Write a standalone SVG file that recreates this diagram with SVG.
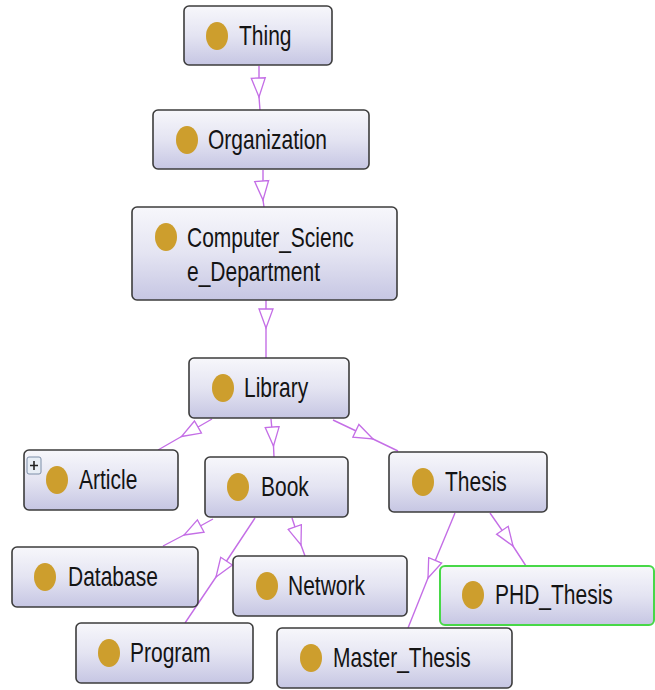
<svg xmlns="http://www.w3.org/2000/svg" width="655" height="690" viewBox="0 0 655 690">
  <defs>
    <linearGradient id="nodeFill" x1="0" y1="0" x2="0" y2="1">
      <stop offset="0" stop-color="#f7f7fb"/>
      <stop offset="0.5" stop-color="#e4e4f2"/>
      <stop offset="1" stop-color="#c6c6e3"/>
    </linearGradient>
    <marker id="isA" markerUnits="userSpaceOnUse" markerWidth="22" markerHeight="18" viewBox="-20 -9 22 18" refX="0" refY="0" orient="auto">
      <path d="M0,0 L-19,-7 L-19,7 Z" fill="#ffffff" stroke="#c46ee6" stroke-width="1.3"/>
    </marker>
  </defs>
  <style>
    .box { fill: url(#nodeFill); stroke: #3c3c3c; stroke-width: 1.6; }
    .box.sel { stroke: #48d848; stroke-width: 2; }
    .dot { fill: #cd9e2d; }
    .lbl { font-family: "Liberation Sans", Arial, sans-serif; font-size: 21px; fill: #141414; }
    .edge { fill: none; stroke: #c46ee6; stroke-width: 1.4; marker-mid: url(#isA); }
  </style>
  <rect width="655" height="690" fill="#ffffff"/>

  <!-- subclass connectors: parent point, arrow tip, child point -->
  <g id="connectors">
    <path class="edge" d="M259,66 L259,97 L260,110"/>
    <path class="edge" d="M263,170 L263,200 L264,207"/>
    <path class="edge" d="M266,300 L266,328 L266,358"/>
    <path class="edge" d="M212,419 L181.5,436.5 L158,450"/>
    <path class="edge" d="M271,419 L273.5,446 L274,457"/>
    <path class="edge" d="M333,420 L373,439 L398,451"/>
    <path class="edge" d="M213,519 L184,535 L163,546"/>
    <path class="edge" d="M255,518 L216,577 L185,623"/>
    <path class="edge" d="M292,518 L301,545 L305,556"/>
    <path class="edge" d="M455,513 L428,578 L408,628"/>
    <path class="edge" d="M490,513 L513,546 L526,566"/>
  </g>

  <g id="node-thing">
    <rect class="box" x="184" y="6" width="148" height="59" rx="5"/>
    <ellipse class="dot" cx="217" cy="36" rx="11" ry="14"/>
    <text class="lbl" transform="translate(239,45) scale(1,1.35)">Thing</text>
  </g>

  <g id="node-organization">
    <rect class="box" x="153" y="110" width="216" height="59" rx="5"/>
    <ellipse class="dot" cx="187" cy="140" rx="11" ry="14"/>
    <text class="lbl" transform="translate(208,149) scale(1,1.35)">Organization</text>
  </g>

  <g id="node-computer-science-department">
    <rect class="box" x="132" y="207" width="265" height="93" rx="5"/>
    <ellipse class="dot" cx="166" cy="237" rx="11" ry="14"/>
    <text class="lbl" transform="translate(187,247) scale(1,1.35)">Computer_Scienc</text>
    <text class="lbl" transform="translate(187,281) scale(1,1.35)">e_Department</text>
  </g>

  <g id="node-library">
    <rect class="box" x="189" y="358" width="160" height="60" rx="5"/>
    <ellipse class="dot" cx="223" cy="388" rx="11" ry="14"/>
    <text class="lbl" transform="translate(244,397) scale(1,1.35)">Library</text>
  </g>

  <g id="node-article">
    <rect class="box" x="24" y="450" width="154" height="60" rx="5"/>
    <rect x="27" y="457" width="14" height="17" rx="2" fill="#e8eef6" stroke="#7c8ea8" stroke-width="1"/>
    <path d="M30,465.5 H38 M34,461 V470" stroke="#222" stroke-width="1.6"/>
    <ellipse class="dot" cx="57" cy="480" rx="11" ry="14"/>
    <text class="lbl" transform="translate(79,489) scale(1,1.35)">Article</text>
  </g>

  <g id="node-book">
    <rect class="box" x="205" y="457" width="143" height="60" rx="5"/>
    <ellipse class="dot" cx="238" cy="487" rx="11" ry="14"/>
    <text class="lbl" transform="translate(261,496) scale(1,1.35)">Book</text>
  </g>

  <g id="node-thesis">
    <rect class="box" x="389" y="452" width="158" height="60" rx="5"/>
    <ellipse class="dot" cx="423" cy="482" rx="11" ry="14"/>
    <text class="lbl" transform="translate(445,491) scale(1,1.35)">Thesis</text>
  </g>

  <g id="node-database">
    <rect class="box" x="12" y="547" width="186" height="60" rx="5"/>
    <ellipse class="dot" cx="45" cy="577" rx="11" ry="14"/>
    <text class="lbl" transform="translate(68,586) scale(1,1.35)">Database</text>
  </g>

  <g id="node-network">
    <rect class="box" x="233" y="556" width="174" height="60" rx="5"/>
    <ellipse class="dot" cx="267" cy="586" rx="11" ry="14"/>
    <text class="lbl" transform="translate(288,595) scale(1,1.35)">Network</text>
  </g>

  <g id="node-phd-thesis">
    <rect class="box sel" x="440" y="566" width="214" height="59" rx="5"/>
    <ellipse class="dot" cx="473" cy="595" rx="11" ry="14"/>
    <text class="lbl" transform="translate(495,604) scale(1,1.35)">PHD_Thesis</text>
  </g>

  <g id="node-program">
    <rect class="box" x="76" y="623" width="177" height="60" rx="5"/>
    <ellipse class="dot" cx="109" cy="653" rx="11" ry="14"/>
    <text class="lbl" transform="translate(130,662) scale(1,1.35)">Program</text>
  </g>

  <g id="node-master-thesis">
    <rect class="box" x="277" y="628" width="235" height="60" rx="5"/>
    <ellipse class="dot" cx="311" cy="658" rx="11" ry="14"/>
    <text class="lbl" transform="translate(333,667) scale(1,1.35)">Master_Thesis</text>
  </g>
</svg>
